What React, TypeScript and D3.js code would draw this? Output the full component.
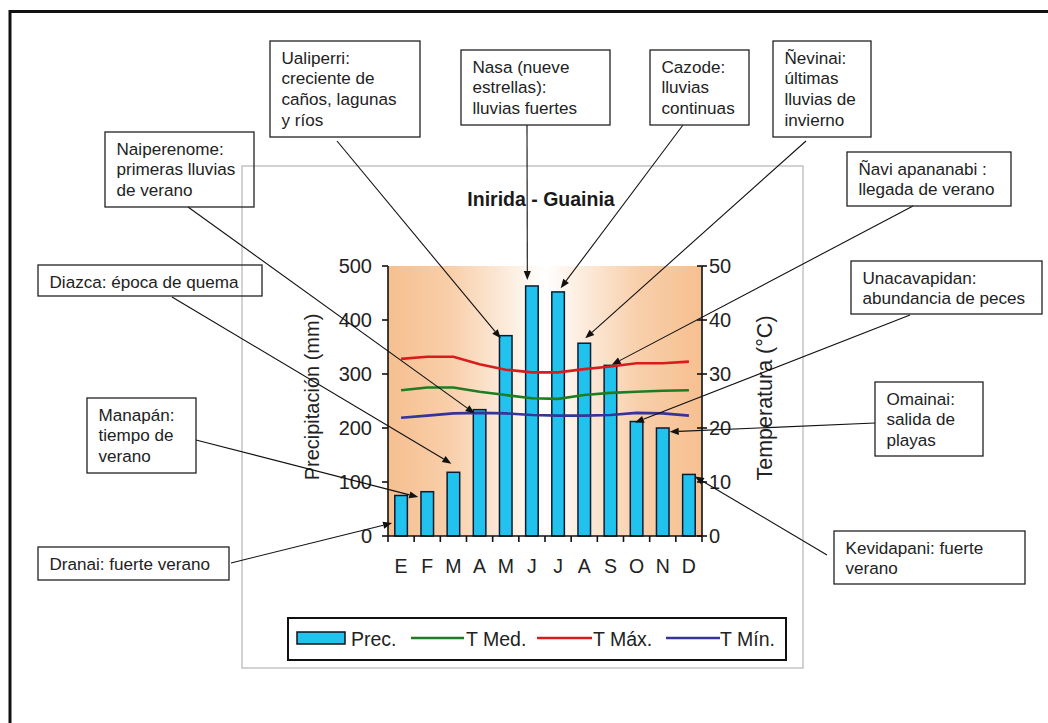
import React from "react";
import * as d3 from "d3";

// Monthly climate data for Inírida (Guainía)
const months = ["E", "F", "M", "A", "M", "J", "J", "A", "S", "O", "N", "D"];
const precipitation = [75, 82, 118, 234, 371, 463, 452, 357, 316, 212, 200, 114];
const tMax = [32.8, 33.2, 33.2, 31.8, 30.8, 30.3, 30.3, 30.9, 31.4, 32.0, 32.0, 32.3];
const tMed = [27.0, 27.5, 27.5, 26.7, 26.1, 25.5, 25.4, 26.1, 26.5, 26.7, 26.9, 27.0];
const tMin = [21.9, 22.3, 22.7, 22.8, 22.7, 22.4, 22.3, 22.3, 22.4, 22.8, 22.7, 22.3];
const precipTicks = [0, 100, 200, 300, 400, 500];
const tempTicks = [0, 10, 20, 30, 40, 50];

// Seasonal calendar notes: box layout, text lines, and the month/value they point to
type Note = {
  x: number; y: number; w: number; h: number;
  lines: string[];
  from: [number, number];
  month: number; dx: number; value: number;
};
const notes: Note[] = [
  { x: 38, y: 547, w: 191, h: 33, lines: ["Dranai: fuerte verano"], from: [231, 563], month: 0, dx: -9, value: 24 },
  { x: 87, y: 398, w: 109, h: 75, lines: ["Manapán:", "tiempo de", "verano"], from: [196, 440], month: 1, dx: -9, value: 72 },
  { x: 38, y: 265, w: 224, h: 31, lines: ["Diazca: época de quema"], from: [172, 297], month: 2, dx: -2, value: 134 },
  { x: 105, y: 132, w: 149, h: 75, lines: ["Naiperenome:", "primeras lluvias", "de verano"], from: [188, 207], month: 3, dx: -5, value: 227 },
  { x: 270, y: 41, w: 150, h: 96, lines: ["Ualiperri:", "creciente de", "caños, lagunas", "y ríos"], from: [337, 141], month: 4, dx: -5, value: 366 },
  { x: 461, y: 50, w: 149, h: 75, lines: ["Nasa (nueve", "estrellas):", "lluvias fuertes"], from: [527, 125], month: 5, dx: -4.6, value: 474 },
  { x: 650, y: 50, w: 99, h: 75, lines: ["Cazode:", "lluvias", "continuas"], from: [683, 125], month: 6, dx: 2.6, value: 459 },
  { x: 773, y: 41, w: 98, h: 96, lines: ["Ñevinai:", "últimas", "lluvias de", "invierno"], from: [806, 141], month: 7, dx: 1, value: 366 },
  { x: 847, y: 152, w: 164, h: 54, lines: ["Ñavi apananabi :", "llegada de verano"], from: [913, 206], month: 8, dx: 1.3, value: 317 },
  { x: 851, y: 261, w: 191, h: 53, lines: ["Unacavapidan:", "abundancia de peces"], from: [910, 315], month: 9, dx: -1.6, value: 210 },
  { x: 875, y: 382, w: 108, h: 74, lines: ["Omainai:", "salida de", "playas"], from: [875, 423], month: 10, dx: 7, value: 193 },
  { x: 834, y: 531, w: 191, h: 53, lines: ["Kevidapani: fuerte", "verano"], from: [827, 555], month: 11, dx: 6, value: 110 },
];

const FONT = "'Liberation Sans', Arial, Helvetica, sans-serif";
const BAR_FILL = "#22c2ee";
const RED = "#d81c1c";
const GREEN = "#1e7d22";
const BLUE = "#34349a";

export default function App() {
  const plot = { left: 388, right: 702, top: 266, bottom: 536 };
  const x = d3.scaleBand<number>().domain(d3.range(months.length)).range([plot.left, plot.right]).padding(0);
  const yP = d3.scaleLinear().domain([0, 500]).range([plot.bottom, plot.top]);
  const yT = d3.scaleLinear().domain([0, 50]).range([plot.bottom, plot.top]);
  const cx = (i: number) => (x(i) as number) + x.bandwidth() / 2;
  const barW = x.bandwidth() * 0.48;

  const tempLine = d3
    .line<number>()
    .x((_, i) => cx(i))
    .y((d) => yT(d));

  const series = [
    { values: tMax, color: RED },
    { values: tMed, color: GREEN },
    { values: tMin, color: BLUE },
  ];

  const arrowLen = 9;
  const arrowHalf = 3.6;

  return (
    <svg
      width={1048}
      height={723}
      viewBox="0 0 1048 723"
      style={{ position: "absolute", left: 0, top: 0, background: "#fff" }}
      fontFamily={FONT}
    >
      <defs>
        <linearGradient id="plotBg" x1="0" x2="1" y1="0" y2="0">
          <stop offset="0%" stopColor="#f6bf90" />
          <stop offset="20%" stopColor="#f8cfaa" />
          <stop offset="50%" stopColor="#ffffff" />
          <stop offset="80%" stopColor="#f8cfaa" />
          <stop offset="100%" stopColor="#f6bf90" />
        </linearGradient>
      </defs>

      {/* outer frame */}
      <rect x={10} y={11.5} width={1100} height={800} fill="none" stroke="#111" strokeWidth={3} />

      {/* chart panel */}
      <rect x={242} y={166} width={561} height={502} fill="#fff" stroke="#c4c4c4" strokeWidth={1.5} />

      <text x={541} y={206} textAnchor="middle" fontSize={19.5} fontWeight="bold" fill="#1a1a1a">
        Inirida - Guainia
      </text>

      {/* plot background */}
      <rect x={plot.left} y={plot.top} width={plot.right - plot.left} height={plot.bottom - plot.top} fill="url(#plotBg)" />

      {/* precipitation bars */}
      {precipitation.map((v, i) => (
        <rect
          key={`bar-${i}`}
          x={cx(i) - barW / 2}
          y={yP(v)}
          width={barW}
          height={yP(0) - yP(v)}
          fill={BAR_FILL}
          stroke="#0d1b2e"
          strokeWidth={1.5}
        />
      ))}

      {/* temperature lines */}
      {series.map((s, k) => (
        <path key={`line-${k}`} d={tempLine(s.values) || ""} fill="none" stroke={s.color} strokeWidth={2.6} />
      ))}

      {/* left axis */}
      <line x1={plot.left} x2={plot.left} y1={plot.top} y2={plot.bottom} stroke="#111" strokeWidth={1.6} />
      {precipTicks.map((t) => (
        <g key={`lp-${t}`}>
          <line x1={plot.left - 6} x2={plot.left} y1={yP(t)} y2={yP(t)} stroke="#111" strokeWidth={1.6} />
          <text x={372} y={yP(t) + 7} textAnchor="end" fontSize={20} fill="#222">
            {t}
          </text>
        </g>
      ))}
      <text transform="translate(319,397) rotate(-90)" textAnchor="middle" fontSize={20} fill="#222">
        Precipitación (mm)
      </text>

      {/* right axis */}
      <line x1={plot.right} x2={plot.right} y1={plot.top} y2={plot.bottom} stroke="#111" strokeWidth={1.6} />
      {tempTicks.map((t) => (
        <g key={`rt-${t}`}>
          <line x1={plot.right - 5} x2={plot.right + 5} y1={yT(t)} y2={yT(t)} stroke="#111" strokeWidth={1.6} />
          <text x={709} y={yT(t) + 7} textAnchor="start" fontSize={20} fill="#222">
            {t}
          </text>
        </g>
      ))}
      <text transform="translate(772,398) rotate(-90)" textAnchor="middle" fontSize={21.5} fill="#222">
        Temperatura (°C)
      </text>

      {/* bottom axis */}
      <line x1={plot.left} x2={plot.right} y1={plot.bottom} y2={plot.bottom} stroke="#111" strokeWidth={1.6} />
      {d3.range(months.length + 1).map((i) => {
        const xx = plot.left + i * x.step();
        return <line key={`bt-${i}`} x1={xx} x2={xx} y1={plot.bottom} y2={plot.bottom + 6} stroke="#111" strokeWidth={1.6} />;
      })}
      {months.map((m, i) => (
        <text key={`ml-${i}`} x={cx(i)} y={572.5} textAnchor="middle" fontSize={19.5} fill="#222">
          {m}
        </text>
      ))}

      {/* legend */}
      <rect x={288} y={618} width={498} height={42} fill="#fff" stroke="#111" strokeWidth={2} />
      <rect x={297} y={632} width={48} height={12} fill={BAR_FILL} stroke="#111" strokeWidth={1.5} />
      <text x={351} y={645.5} fontSize={19.5} fill="#222">Prec.</text>
      <line x1={411} x2={464} y1={638} y2={638} stroke={GREEN} strokeWidth={2.6} />
      <text x={466} y={645.5} fontSize={19.5} fill="#222">T Med.</text>
      <line x1={537} x2={592} y1={638} y2={638} stroke={RED} strokeWidth={2.6} />
      <text x={593} y={645.5} fontSize={19.5} fill="#222">T Máx.</text>
      <line x1={666} x2={720} y1={638} y2={638} stroke={BLUE} strokeWidth={2.6} />
      <text x={720} y={645.5} fontSize={19.5} fill="#222">T Mín.</text>

      {/* notes and arrows */}
      {notes.map((n, k) => {
        const tx = cx(n.month) + n.dx;
        const ty = yP(n.value);
        const [fx, fy] = n.from;
        const ang = Math.atan2(ty - fy, tx - fx);
        const bx = tx - Math.cos(ang) * arrowLen;
        const by = ty - Math.sin(ang) * arrowLen;
        const px = -Math.sin(ang) * arrowHalf;
        const py = Math.cos(ang) * arrowHalf;
        return (
          <g key={`note-${k}`}>
            <line x1={fx} y1={fy} x2={bx} y2={by} stroke="#111" strokeWidth={1.1} />
            <polygon points={`${tx},${ty} ${bx + px},${by + py} ${bx - px},${by - py}`} fill="#111" />
            <rect x={n.x} y={n.y} width={n.w} height={n.h} fill="none" stroke="#222" strokeWidth={1.3} />
            {n.lines.map((ln, j) => (
              <text key={j} x={n.x + 11.5} y={n.y + 22.5 + j * 20.7} fontSize={17.1} fill="#222">
                {ln}
              </text>
            ))}
          </g>
        );
      })}
    </svg>
  );
}
